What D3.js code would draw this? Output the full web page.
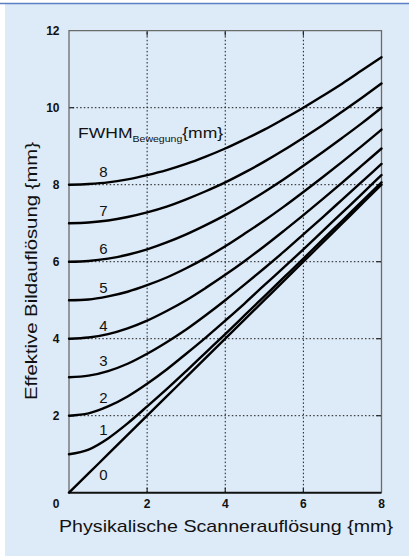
<!DOCTYPE html>
<html>
<head>
<meta charset="utf-8">
<script src="https://cdn.jsdelivr.net/npm/d3@7"></script>
<style>
  html, body { margin: 0; padding: 0; background: #ffffff; }
  svg { display: block; }
</style>
</head>
<body>
<svg id="chart" width="409" height="557"></svg>
<script>
// Physical scanner resolution (x, mm) sampled every 0.5 mm
const scannerRes = [0, 0.5, 1, 1.5, 2, 2.5, 3, 3.5, 4, 4.5, 5, 5.5, 6, 6.5, 7, 7.5, 8];

// Motion FWHM (mm) for each curve
const fwhmMotion = [0, 1, 2, 3, 4, 5, 6, 7, 8];

// Effective image resolution (mm) for each motion FWHM
const eff0 = [0.00, 0.50, 1.00, 1.50, 2.00, 2.50, 3.00, 3.50, 4.00, 4.50, 5.00, 5.50, 6.00, 6.50, 7.00, 7.50, 8.00];
const eff1 = [1.00, 1.12, 1.41, 1.80, 2.24, 2.69, 3.16, 3.64, 4.12, 4.61, 5.10, 5.59, 6.08, 6.58, 7.07, 7.57, 8.06];
const eff2 = [2.00, 2.06, 2.24, 2.50, 2.83, 3.20, 3.61, 4.03, 4.47, 4.92, 5.39, 5.85, 6.32, 6.80, 7.28, 7.76, 8.25];
const eff3 = [3.00, 3.04, 3.16, 3.35, 3.61, 3.91, 4.24, 4.61, 5.00, 5.41, 5.83, 6.26, 6.71, 7.16, 7.62, 8.08, 8.54];
const eff4 = [4.00, 4.03, 4.12, 4.27, 4.47, 4.72, 5.00, 5.32, 5.66, 6.02, 6.40, 6.80, 7.21, 7.63, 8.06, 8.50, 8.94];
const eff5 = [5.00, 5.02, 5.10, 5.22, 5.39, 5.59, 5.83, 6.10, 6.40, 6.73, 7.07, 7.43, 7.81, 8.20, 8.60, 9.01, 9.43];
const eff6 = [6.00, 6.02, 6.08, 6.18, 6.32, 6.50, 6.71, 6.95, 7.21, 7.50, 7.81, 8.14, 8.49, 8.85, 9.22, 9.60, 10.00];
const eff7 = [7.00, 7.02, 7.07, 7.16, 7.28, 7.43, 7.62, 7.83, 8.06, 8.32, 8.60, 8.90, 9.22, 9.55, 9.90, 10.26, 10.63];
const eff8 = [8.00, 8.02, 8.06, 8.14, 8.25, 8.38, 8.54, 8.73, 8.94, 9.18, 9.43, 9.71, 10.00, 10.31, 10.63, 10.97, 11.31];
const effSeries = [eff0, eff1, eff2, eff3, eff4, eff5, eff6, eff7, eff8];

// Curve label anchors (data units)
const labelX = 0.88;
const labelY = [0.46, 1.65, 2.46, 3.43, 4.33, 5.34, 6.33, 7.33, 8.33];

// Axis ticks
const xTicks = [2, 4, 6, 8];
const yTicks = [2, 4, 6, 8, 10, 12];
const xGrid = [2, 4, 6];
const yGrid = [2, 4, 6, 8, 10];

const svg = d3.select("#chart");
const W = 409, H = 557;
const margin = { left: 69, right: 27.5, top: 30.7, bottom: 64.3 };
const plotW = W - margin.left - margin.right;
const plotH = H - margin.top - margin.bottom;
const font = "Liberation Sans, Arial, sans-serif";

// Panel background
svg.append("rect").attr("x", 5).attr("y", 4).attr("width", W - 5).attr("height", H - 5)
  .attr("fill", "#ddeaf7");
svg.append("line").attr("x1", 0).attr("x2", W).attr("y1", 3.5).attr("y2", 3.5)
  .attr("stroke", "#5a7fc2").attr("stroke-width", 1.6);

const x = d3.scaleLinear().domain([0, 8]).range([margin.left, margin.left + plotW]);
const y = d3.scaleLinear().domain([0, 12]).range([margin.top + plotH, margin.top]);

const g = svg.append("g");

// Dotted grid
g.selectAll("line.gx").data(xGrid).join("line")
  .attr("x1", d => x(d)).attr("x2", d => x(d))
  .attr("y1", y(0)).attr("y2", y(12))
  .attr("stroke", "#1a1a1a").attr("stroke-width", 1).attr("stroke-dasharray", "1.5,2.2");
g.selectAll("line.gy").data(yGrid).join("line")
  .attr("x1", x(0)).attr("x2", x(8))
  .attr("y1", d => y(d)).attr("y2", d => y(d))
  .attr("stroke", "#1a1a1a").attr("stroke-width", 1).attr("stroke-dasharray", "1.5,2.2");

// Inward tick marks on all four sides
const tk = 5;
g.selectAll("line.tl").data(yGrid).join("line")
  .attr("x1", x(0)).attr("x2", x(0) + tk).attr("y1", d => y(d)).attr("y2", d => y(d))
  .attr("stroke", "#222").attr("stroke-width", 1.2);
g.selectAll("line.tr").data(yGrid).join("line")
  .attr("x1", x(8)).attr("x2", x(8) - tk).attr("y1", d => y(d)).attr("y2", d => y(d))
  .attr("stroke", "#222").attr("stroke-width", 1.2);
g.selectAll("line.tb").data(xGrid).join("line")
  .attr("x1", d => x(d)).attr("x2", d => x(d)).attr("y1", y(0)).attr("y2", y(0) - tk)
  .attr("stroke", "#222").attr("stroke-width", 1.2);
g.selectAll("line.tt").data(xGrid).join("line")
  .attr("x1", d => x(d)).attr("x2", d => x(d)).attr("y1", y(12)).attr("y2", y(12) + tk)
  .attr("stroke", "#222").attr("stroke-width", 1.2);

// Frame
g.append("path")
  .attr("d", `M${x(0)},${y(0)}V${y(12)}H${x(8)}V${y(0)}`)
  .attr("fill", "none").attr("stroke", "#6b6b6b").attr("stroke-width", 1.3);
g.append("line").attr("x1", x(0)).attr("x2", x(8)).attr("y1", y(0)).attr("y2", y(0))
  .attr("stroke", "#111").attr("stroke-width", 2);

// Curves
const line = d3.line()
  .x((d, i) => x(scannerRes[i]))
  .y(d => y(d))
  .curve(d3.curveMonotoneX);

g.selectAll("path.curve").data(effSeries).join("path")
  .attr("class", "curve")
  .attr("d", d => line(d))
  .attr("fill", "none").attr("stroke", "#000").attr("stroke-width", 2.4)
  .attr("stroke-linecap", "round");

// Curve labels
g.selectAll("text.lbl").data(fwhmMotion).join("text")
  .attr("x", x(labelX)).attr("y", (d, i) => y(labelY[i]))
  .attr("text-anchor", "middle").attr("dominant-baseline", "central")
  .attr("font-family", font).attr("font-size", 15)
  .attr("fill", "#111").text(d => d);

// Tick labels
g.selectAll("text.yt").data(yTicks).join("text")
  .attr("x", x(0) - 9.5).attr("y", d => y(d) + 4)
  .attr("text-anchor", "end").attr("font-family", font).attr("font-weight", "bold")
  .attr("font-size", 12).attr("fill", "#111").text(d => d);
g.selectAll("text.xt").data(xTicks).join("text")
  .attr("x", d => x(d)).attr("y", y(0) + 15.5)
  .attr("text-anchor", "middle").attr("font-family", font).attr("font-weight", "bold")
  .attr("font-size", 12).attr("fill", "#111").text(d => d);
g.append("text").attr("x", x(0) - 13).attr("y", y(0) + 15.5)
  .attr("text-anchor", "middle").attr("font-family", font).attr("font-weight", "bold")
  .attr("font-size", 12).attr("fill", "#111").text("0");

// Legend title
const leg = g.append("text").attr("transform", "translate(78,138) scale(1.17,1)")
  .attr("font-family", font).attr("font-size", 15).attr("fill", "#111");
leg.append("tspan").text("FWHM");
leg.append("tspan").attr("font-size", 9).attr("dy", 3.5).text("Bewegung");
leg.append("tspan").attr("dy", -3.5).text("{mm}");

// Axis titles
g.append("text").attr("x", 226).attr("y", 532)
  .attr("text-anchor", "middle").attr("font-family", font).attr("font-size", 17)
  .attr("textLength", 334).attr("lengthAdjust", "spacingAndGlyphs")
  .attr("fill", "#111").text("Physikalische Scannerauflösung {mm}");
g.append("text").attr("transform", `translate(36.5,271) rotate(-90)`)
  .attr("text-anchor", "middle").attr("font-family", font).attr("font-size", 17)
  .attr("textLength", 258).attr("lengthAdjust", "spacingAndGlyphs")
  .attr("fill", "#111").text("Effektive Bildauflösung {mm}");
</script>
</body>
</html>
